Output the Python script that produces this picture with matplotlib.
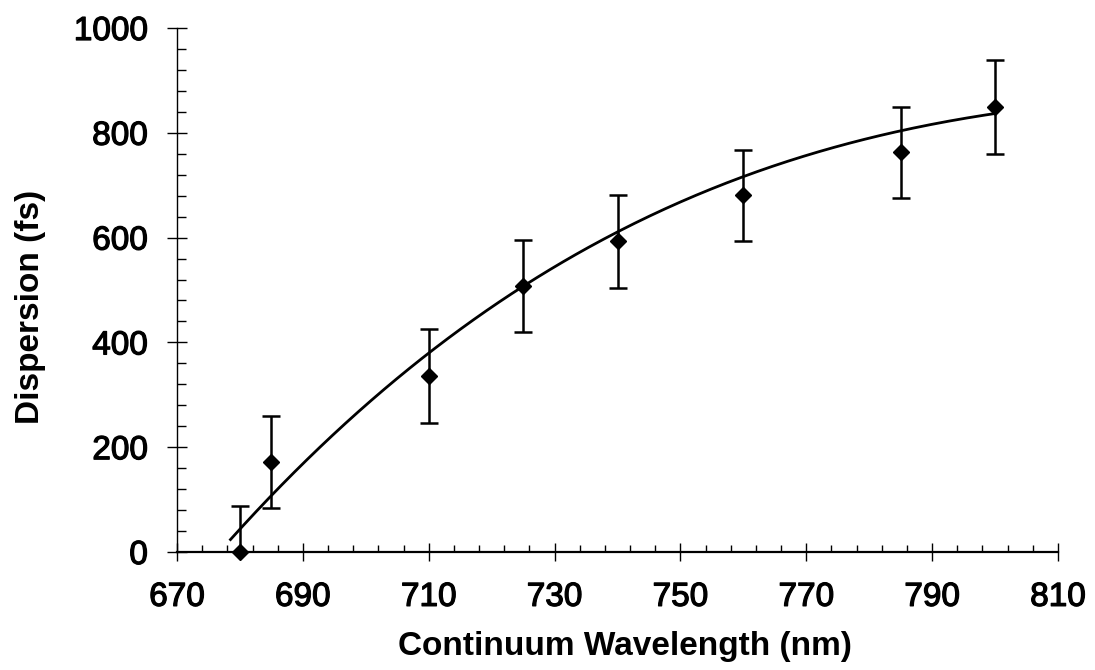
import numpy as np
import matplotlib
matplotlib.use("Agg")
import matplotlib.pyplot as plt
import matplotlib.patheffects as pe

plt.rcParams['font.family'] = ['Liberation Sans', 'DejaVu Sans']

# measured points
wavelength = [680, 685, 710, 725, 740, 760, 785, 800]
dispersion = [0, 172, 336, 507, 593, 681, 763, 849]
errors = [87, 88, 89, 88, 89, 87, 87, 89]

# smooth curve
curve_x = [678.5, 685, 697, 710, 717, 725, 737, 747, 755, 760, 770, 785, 800]
curve_y = [26, 106, 249, 376, 440, 506, 597, 656, 694, 716, 754, 799, 840]

x_ticks = [670, 690, 710, 730, 750, 770, 790, 810]
y_ticks = [0, 200, 400, 600, 800, 1000]

fig = plt.figure(figsize=(10.95, 6.70), dpi=100)
ax = fig.add_axes([177/1095, 118/670, 881/1095, 524/670])

coef = np.polyfit(curve_x, curve_y, 3)
xs = np.linspace(curve_x[0], curve_x[-1], 300)
ax.plot(xs, np.polyval(coef, xs), color='black', lw=2.0, zorder=2)

ax.errorbar(wavelength, dispersion, yerr=errors, fmt='none',
            ecolor='black', elinewidth=1.8, capsize=6.5, capthick=1.8,
            zorder=3)
ax.plot(wavelength, dispersion, 'D', color='black', ms=8.5, zorder=4,
        clip_on=False)

ax.set_xlim(670, 810)
ax.set_ylim(0, 1000)
ax.set_xticks(x_ticks)
ax.set_xticks(np.arange(670, 811, 4), minor=True)
ax.set_yticks(y_ticks)
ax.set_yticks(np.arange(0, 1001, 40), minor=True)

for s in ['top', 'right']:
    ax.spines[s].set_visible(False)
ax.spines['bottom'].set_linewidth(1.6)
ax.spines['left'].set_linewidth(1.0)

ax.tick_params(axis='x', which='major', direction='inout', length=13, width=1.0,
               labelsize=24, pad=15)
ax.tick_params(axis='x', which='minor', direction='in', length=5, width=1.0)
ax.tick_params(axis='y', which='major', direction='inout', length=14, width=1.0,
               labelsize=24, pad=14)
ax.tick_params(axis='y', which='minor', direction='in', length=6.5, width=1.0)

for lab in ax.get_xticklabels() + ax.get_yticklabels():
    lab.set_path_effects([pe.withStroke(linewidth=0.9, foreground='black')])

fig.text(625/1095, 1 - 647/670, 'Continuum Wavelength (nm)', ha='center', va='center',
         fontsize=24, fontweight='bold')
fig.text(31/1095, 1 - 307/670, 'Dispersion (fs)', ha='center', va='center',
         rotation=90, fontsize=24, fontweight='bold')

fig.savefig('out.png', dpi=100)
